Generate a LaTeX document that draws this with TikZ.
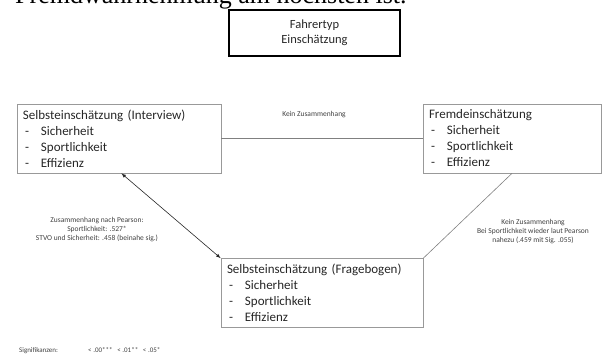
\documentclass[tikz,border=0pt]{standalone}
\usepackage{fontspec}
\setmainfont{Carlito}
\newfontfamily\timesface{Liberation Serif}
\usetikzlibrary{shapes}
\newcommand{\itm}[1]{\makebox[18pt][l]{\hspace{2pt}-}#1}

\begin{document}
\begin{tikzpicture}[x=1pt,y=-1pt,
      listbox/.style={rectangle,draw=black!40,line width=0.7pt,text=black!85,
          font=\fontsize{13}{16}\selectfont,align=left,text width=#1,
          inner xsep=6pt,inner ysep=0pt,minimum height=69pt},
      topbox/.style={rectangle,draw=black,line width=1.4pt,text=black!85,
          font=\fontsize{12.5}{15}\selectfont,align=center,
          minimum width=171pt,minimum height=46pt,inner sep=0pt},
      note/.style={align=center,text=black!75,font=\fontsize{7.5}{9}\selectfont,inner sep=0pt},
      link/.style={draw=black!50,line width=0.6pt}]
    \useasboundingbox (0,0) rectangle (602,356);
    \node[anchor=base west,inner sep=0pt,font=\timesface\fontsize{26}{30}\selectfont] (head)
        at (15,4) {Fremdwahrnehmung am höchsten ist.};
    \node[topbox] (typ) at (314.5,33) {Fahrertyp\\Einschätzung};
    \node[listbox=192pt] (iv) at (119,138.5)
        {Selbsteinschätzung (Interview)\\\itm{Sicherheit}\\\itm{Sportlichkeit}\\\itm{Effizienz}};
    \node[listbox=166pt] (fd) at (512,138.5)
        {Fremdeinschätzung\\\itm{Sicherheit}\\\itm{Sportlichkeit}\\\itm{Effizienz}};
    \node[listbox=190pt] (fb) at (322,293)
        {Selbsteinschätzung (Fragebogen)\\\itm{Sicherheit}\\\itm{Sportlichkeit}\\\itm{Effizienz}};
    \draw[link] (iv.east) -- (fd.west);
    \draw[link] (fb.north east) -- (fd.south);
    \draw[black!85,line width=0.6pt,scale=0.8,latex-latex] ([xshift=3pt]iv.south) -- (fb.north west);
    \node[note] (nz1) at (314,115) {Kein Zusammenhang};
    \node[note] (pearson) at (97,230)
        {Zusammenhang nach Pearson:\\Sportlichkeit: .527*\\STVO und Sicherheit: .458 (beinahe sig.)};
    \node[note] (nz2) at (533,232)
        {Kein Zusammenhang\\Bei Sportlichkeit wieder laut Pearson\\nahezu (.459 mit Sig. .055)};
    \node[note,anchor=base west,font=\fontsize{7}{8}\selectfont] (sig) at (19,352) {Signifikanzen:};
    \node[note,anchor=base west,font=\fontsize{7}{8}\selectfont] (sigval) at (88,352)
        {<~.00***~~~<~.01**~~~<~.05*};
\end{tikzpicture}
\end{document}
